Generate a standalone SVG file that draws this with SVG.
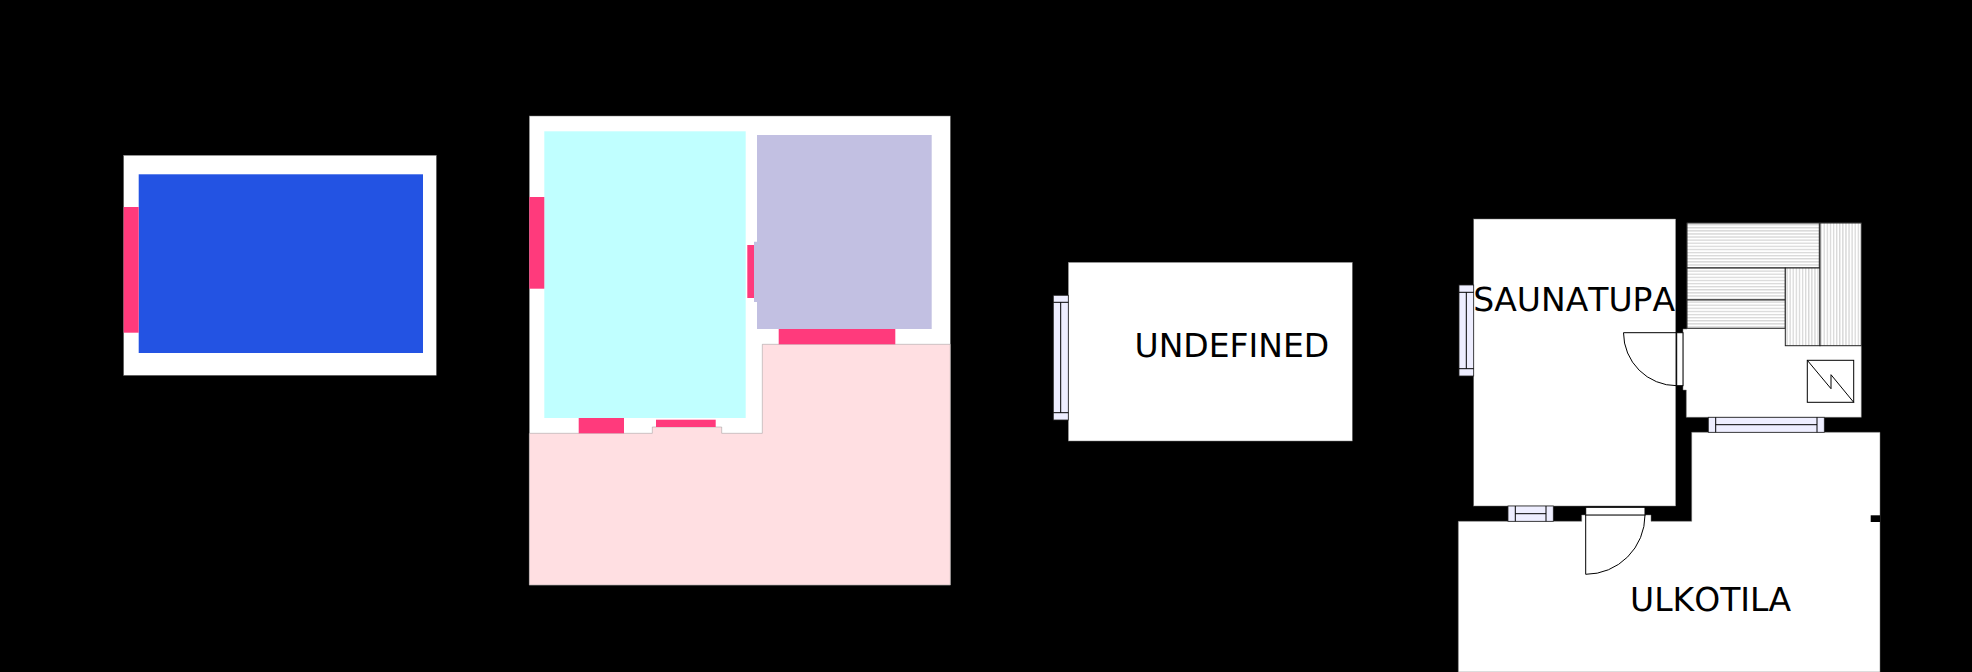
<svg xmlns="http://www.w3.org/2000/svg" width="1972" height="672" viewBox="0 0 1972 672">
<style>
.room{fill:#fff;stroke:#777;stroke-width:.5}
.hole{fill:#ff3a7c}
.win{fill:#eeeeff;stroke:#222;stroke-width:.8}
.ln{fill:none;stroke:#000;stroke-width:1}
.bench{stroke:#222;stroke-width:1}
.lbl{font-family:"DejaVu Sans",sans-serif;font-size:33px;fill:#000;font-kerning:none;text-rendering:geometricPrecision}
</style>
<defs>
<pattern id="hh" patternUnits="userSpaceOnUse" width="8" height="3.1"><rect width="8" height="3.1" fill="#fff"/><line x1="0" x2="8" y1="1.5" y2="1.5" stroke="#aaa" stroke-width=".7"/></pattern>
<pattern id="hv" patternUnits="userSpaceOnUse" width="3.1" height="8"><rect width="3.1" height="8" fill="#fff"/><line y1="0" y2="8" x1="1.5" x2="1.5" stroke="#aaa" stroke-width=".7"/></pattern>
</defs>
<rect width="1972" height="672" fill="#000"/>

<g id="plan-a">
<rect class="room" x="123.7" y="155.3" width="312.6" height="220"/>
<rect x="138.7" y="174.3" width="284.3" height="178.7" fill="#2353e3"/>
<rect class="hole" x="123.7" y="207" width="15" height="125.7"/>
</g>

<g id="plan-b">
<rect class="room" x="529.3" y="116" width="421" height="469"/>
<rect x="544.3" y="131.3" width="201.4" height="286.7" fill="#c0ffff"/>
<path d="M757 135H931.7V329H757V302H754V241.7H757Z" fill="#c2c0e2"/>
<path d="M529.3 585V433.3H652.3V427H721.7V433.3H762.3V344.3H950.3V585Z" fill="#ffdfe2" stroke="#999" stroke-width=".5"/>
<rect class="hole" x="529.3" y="197" width="15" height="91.7"/>
<rect class="hole" x="747.3" y="245" width="6.7" height="53"/>
<rect class="hole" x="778.7" y="329" width="116.6" height="15.3"/>
<rect class="hole" x="578.7" y="418" width="45.3" height="15.3"/>
<rect class="hole" x="656" y="419.7" width="59.7" height="7.3"/>
</g>

<g id="plan-c">
<rect class="room" x="1068.3" y="262.3" width="284" height="178.7"/>
<g id="window-c">
<rect class="win" x="1053.3" y="295.3" width="15" height="124.7"/>
<path class="ln" d="M1053.3 302.3H1068.3M1053.3 412.7H1068.3M1060.7 302.3V412.7"/>
</g>
<text class="lbl" x="1134.5" y="356.7">UNDEFINED</text>
</g>

<g id="plan-d">
<g id="saunatupa">
<rect class="room" x="1473.7" y="219" width="202" height="287"/>
<text class="lbl" x="1473.3" y="310.7">SAUNATUPA</text>
</g>
<g id="sauna">
<path class="room" d="M1687 223H1861.3V417.3H1686.3V390H1683V329H1687Z"/>
<rect x="1687" y="223" width="132.3" height="45" fill="url(#hh)" class="bench"/>
<rect x="1687" y="268" width="98.3" height="32" fill="url(#hh)" class="bench"/>
<rect x="1687" y="300" width="98.3" height="28.3" fill="url(#hh)" class="bench"/>
<rect x="1785.3" y="268" width="34.7" height="77.7" fill="url(#hv)" class="bench"/>
<rect x="1820" y="223" width="41.3" height="122.7" fill="url(#hv)" class="bench"/>
<g id="stove">
<rect x="1807.3" y="360.3" width="46.4" height="42" fill="#fff" stroke="#000" stroke-width="1"/>
<path class="ln" d="M1807.3 360.3L1831 388.7V374.7L1853.7 402.3"/>
</g>
</g>
<g id="ulkotila">
<path class="room" d="M1691.7 432.3H1880V672H1458.3V521.3H1581.7V515H1651V521.3H1691.7Z"/>
<rect x="1870.7" y="515.3" width="9.3" height="6.7" fill="#000"/>
<text class="lbl" x="1630" y="610.7">ULKOTILA</text>
</g>
<g id="window-west">
<rect class="win" x="1459" y="285" width="14.7" height="91"/>
<path class="ln" d="M1459 292.3H1473.7M1459 368.7H1473.7M1466.3 292.3V368.7"/>
</g>
<g id="window-south">
<rect class="win" x="1508" y="506" width="45.3" height="15.3"/>
<path class="ln" d="M1515.3 506V521.3M1546 506V521.3M1515.3 513.7H1546"/>
</g>
<g id="window-sauna">
<rect class="win" x="1708.3" y="417.3" width="116" height="15"/>
<path class="ln" d="M1715.7 417.3V432.3M1817 417.3V432.3M1715.7 424.7H1817"/>
</g>
<g id="door-inner">
<rect x="1676.7" y="332.7" width="6.3" height="53" fill="#fff" stroke="#000" stroke-width="1"/>
<path class="ln" d="M1676.7 332.7H1623.5A53.2 53.2 0 0 0 1676.7 385.7"/>
</g>
<g id="door-outer">
<rect x="1585.7" y="507.3" width="59.3" height="7.7" fill="#fff" stroke="#000" stroke-width="1"/>
<path class="ln" d="M1585.7 515V574.3A59.3 59.3 0 0 0 1645 515"/>
</g>
</g>
</svg>
